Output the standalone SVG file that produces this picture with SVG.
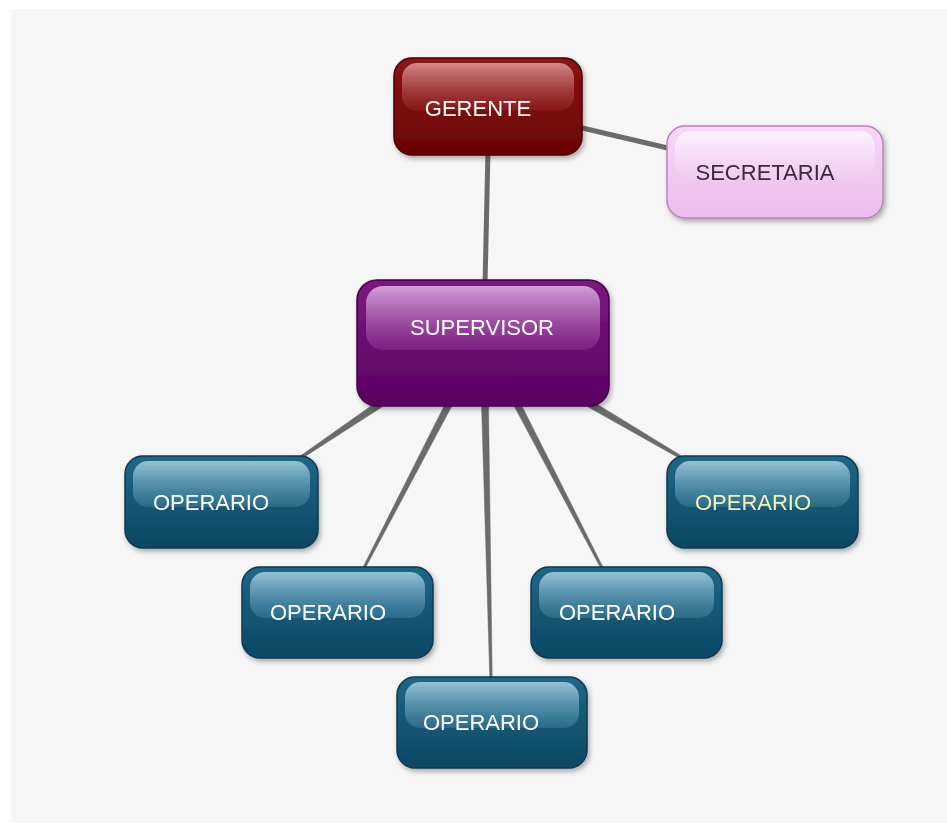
<svg xmlns="http://www.w3.org/2000/svg" width="947" height="826" viewBox="0 0 947 826">
<defs>
<linearGradient id="gOp" x1="0" y1="0" x2="0" y2="1"><stop offset="0" stop-color="#1f6787"/><stop offset="1" stop-color="#0b4763"/></linearGradient>
<linearGradient id="hOp" x1="0" y1="0" x2="0" y2="1"><stop offset="0" stop-color="#9cc6d8" stop-opacity="0.95"/><stop offset="1" stop-color="#3f819f" stop-opacity="0.5"/></linearGradient>
<linearGradient id="gGe" x1="0" y1="0" x2="0" y2="1"><stop offset="0" stop-color="#8a1414"/><stop offset="1" stop-color="#6a0404"/></linearGradient>
<linearGradient id="hGe" x1="0" y1="0" x2="0" y2="1"><stop offset="0" stop-color="#d99090" stop-opacity="0.95"/><stop offset="1" stop-color="#922222" stop-opacity="0.5"/></linearGradient>
<linearGradient id="gSu" x1="0" y1="0" x2="0" y2="1"><stop offset="0" stop-color="#7a1a80"/><stop offset="1" stop-color="#5c0062"/></linearGradient>
<linearGradient id="hSu" x1="0" y1="0" x2="0" y2="1"><stop offset="0" stop-color="#d8a6dc" stop-opacity="0.95"/><stop offset="1" stop-color="#8f3596" stop-opacity="0.5"/></linearGradient>
<linearGradient id="gSe" x1="0" y1="0" x2="0" y2="1"><stop offset="0" stop-color="#f6d6f6"/><stop offset="1" stop-color="#ecbdec"/></linearGradient>
<linearGradient id="hSe" x1="0" y1="0" x2="0" y2="1"><stop offset="0" stop-color="#fff4ff" stop-opacity="0.95"/><stop offset="1" stop-color="#f3d0f3" stop-opacity="0.5"/></linearGradient>
<filter id="sh" x="-10%" y="-10%" width="125%" height="135%"><feDropShadow dx="2" dy="3" stdDeviation="2.5" flood-color="#000" flood-opacity="0.3"/></filter>
</defs>
<style>
.txt{font-family:"Liberation Sans",Arial,sans-serif;font-size:22px;text-anchor:middle;dominant-baseline:central}
.op{fill:url(#gOp);stroke:#0a3a52;stroke-width:1.5}
.oph{fill:url(#hOp)}
.con{fill:#6b6b6b;stroke:#6b6b6b;stroke-width:0.5}
.conl{stroke:#6b6b6b;stroke-width:5;fill:none}
</style>
<rect x="0" y="0" width="947" height="826" fill="#ffffff"/>
<rect x="11" y="9" width="936" height="814" fill="#f6f6f6"/>
<g id="connectors">
<line class="conl" x1="488" y1="150" x2="485" y2="285"/>
<line class="conl" x1="578" y1="127" x2="672" y2="149"/>
<polygon class="con" points="378,401.1 299.2,456.8 300.8,459.2 382,406.9"/>
<polygon class="con" points="445.9,402.4 362.9,567.4 365.1,568.6 452.1,405.6"/>
<polygon class="con" points="481.5,404 489.8,678 492.2,678 488.5,404"/>
<polygon class="con" points="513.9,405.6 600.9,568.6 603.1,567.4 520.1,402.4"/>
<polygon class="con" points="588.2,407 681.2,459.3 682.8,456.7 591.8,401"/>
</g>
<g id="gerente" filter="url(#sh)">
<rect x="394" y="58" width="188" height="97" rx="18" fill="url(#gGe)" stroke="#4e0202" stroke-width="1.5"/>
<rect x="402" y="63" width="172" height="48" rx="15" fill="url(#hGe)"/>
<text class="txt" x="478" y="108" fill="#ffffff">GERENTE</text>
</g>
<g id="secretaria" filter="url(#sh)">
<rect x="667" y="126" width="216" height="92" rx="18" fill="url(#gSe)" stroke="#b586b5" stroke-width="1.5"/>
<rect x="675" y="131" width="200" height="46" rx="15" fill="url(#hSe)"/>
<text class="txt" x="765" y="172" fill="#3a2a3a">SECRETARIA</text>
</g>
<g id="supervisor" filter="url(#sh)">
<rect x="357" y="280" width="252" height="126" rx="20" fill="url(#gSu)" stroke="#45004a" stroke-width="1.5"/>
<rect x="366" y="286" width="234" height="64" rx="17" fill="url(#hSu)"/>
<text class="txt" x="482" y="327" fill="#ffffff">SUPERVISOR</text>
</g>
<g id="operario1" filter="url(#sh)">
<rect class="op" x="125" y="456" width="193" height="92" rx="18"/>
<rect class="oph" x="133" y="461" width="177" height="46" rx="15"/>
<text class="txt" x="211" y="502" fill="#ffffff">OPERARIO</text>
</g>
<g id="operario2" filter="url(#sh)">
<rect class="op" x="242" y="567" width="191" height="91" rx="18"/>
<rect class="oph" x="250" y="572" width="175" height="46" rx="15"/>
<text class="txt" x="328" y="612" fill="#ffffff">OPERARIO</text>
</g>
<g id="operario3" filter="url(#sh)">
<rect class="op" x="397" y="677" width="190" height="91" rx="18"/>
<rect class="oph" x="405" y="682" width="174" height="46" rx="15"/>
<text class="txt" x="481" y="722" fill="#ffffff">OPERARIO</text>
</g>
<g id="operario4" filter="url(#sh)">
<rect class="op" x="531" y="567" width="191" height="91" rx="18"/>
<rect class="oph" x="539" y="572" width="175" height="46" rx="15"/>
<text class="txt" x="617" y="612" fill="#ffffff">OPERARIO</text>
</g>
<g id="operario5" filter="url(#sh)">
<rect class="op" x="667" y="456" width="191" height="92" rx="18"/>
<rect class="oph" x="675" y="461" width="175" height="46" rx="15"/>
<text class="txt" x="753" y="502" fill="#f2f2b8">OPERARIO</text>
</g>
</svg>
